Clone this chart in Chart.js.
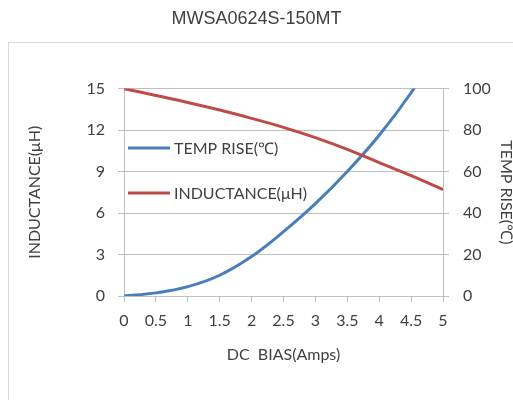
<!DOCTYPE html>
<html>
<head>
<meta charset="utf-8">
<script src="https://cdn.jsdelivr.net/npm/chart.js@4"></script>
<style>
  html, body { margin: 0; padding: 0; background: #fff; }
  #wrap { width: 513px; height: 400px; }
</style>
</head>
<body>
<div id="wrap"><canvas id="biasChart"></canvas></div>
<script>
// values
const biasAmps = [0, 0.5, 1, 1.5, 2, 2.5, 3, 3.5, 4, 4.5, 5];
const inductance = [15, 14.5, 14.0, 13.45, 12.85, 12.2, 11.45, 10.6, 9.65, 8.7, 7.7];
const tempRise = [0, 1.5, 4.5, 10, 19, 31, 44.5, 60, 77.5, 98, 122];
const inductanceTicks = [0, 3, 6, 9, 12, 15];
const tempTicks = [0, 20, 40, 60, 80, 100];

const textColor = '#404040';
const gridColor = '#bfbfbf';
const blue = '#4a7ebb';
const red = '#be4b48';

function toPoints(ys) {
    return biasAmps.map((x, i) => ({ x: x, y: ys[i] }));
}

// outer frame of the chart object
const framePlugin = {
    id: 'frame',
    beforeDraw(chart) {
        const ctx = chart.ctx;
        ctx.save();
        ctx.strokeStyle = '#d9d9d9';
        ctx.lineWidth = 1;
        ctx.strokeRect(8.5, 42.5, 520, 380);
        ctx.restore();
    }
};

// legend sits inside the plot, upper left
const insideLegend = {
    id: 'insideLegend',
    afterDatasetsDraw(chart) {
        const ctx = chart.ctx;
        const items = [
            { text: 'TEMP RISE(℃)', color: blue, y: 148 },
            { text: 'INDUCTANCE(μH)', color: red, y: 193 }
        ];
        ctx.save();
        ctx.font = '16px Lato, "Liberation Sans", sans-serif';
        ctx.textBaseline = 'middle';
        ctx.textAlign = 'left';
        items.forEach(it => {
            ctx.strokeStyle = it.color;
            ctx.lineWidth = 3;
            ctx.beginPath();
            ctx.moveTo(128, it.y);
            ctx.lineTo(170, it.y);
            ctx.stroke();
            ctx.fillStyle = textColor;
            ctx.fillText(it.text, 174, it.y + 1);
        });
        ctx.restore();
    }
};

const tickFont = { family: 'Lato, "Liberation Sans", sans-serif', size: 16 };

new Chart(document.getElementById('biasChart'), {
    type: 'line',
    data: {
        datasets: [{
            label: 'TEMP RISE(℃)',
            data: toPoints(tempRise),
            yAxisID: 'y1',
            borderColor: blue,
            borderWidth: 3,
            pointRadius: 0,
            tension: 0.4,
            order: 1
        }, {
            label: 'INDUCTANCE(μH)',
            data: toPoints(inductance),
            yAxisID: 'y',
            borderColor: red,
            borderWidth: 3,
            pointRadius: 0,
            tension: 0.4,
            order: 0
        }]
    },
    options: {
        responsive: true,
        maintainAspectRatio: false,
        animation: false,
        layout: { padding: 0 },
        plugins: {
            legend: { display: false },
            tooltip: { enabled: false },
            title: {
                display: true,
                text: 'MWSA0624S-150MT',
                color: textColor,
                font: { family: '"Liberation Sans", Arial, sans-serif', size: 18, weight: 'normal', lineHeight: 1.2 },
                padding: { top: 8, bottom: 59 }
            }
        },
        scales: {
            x: {
                type: 'linear',
                min: 0,
                max: 5,
                ticks: {
                    stepSize: 0.5,
                    color: textColor,
                    font: tickFont,
                    padding: 9,
                    maxRotation: 0,
                    callback: v => String(v)
                },
                grid: { drawOnChartArea: false, drawTicks: true, tickLength: 6, color: gridColor },
                border: { display: true, color: gridColor },
                title: {
                    display: true,
                    text: 'DC  BIAS(Amps)',
                    color: textColor,
                    font: tickFont,
                    padding: { top: 0, bottom: 36 }
                },
                afterFit(scale) { scale.height = 104; }
            },
            y: {
                position: 'left',
                min: 0,
                max: 15,
                afterBuildTicks(scale) { scale.ticks = inductanceTicks.map(v => ({ value: v })); },
                ticks: { color: textColor, font: tickFont, padding: 13 },
                grid: { color: gridColor, tickLength: 6 },
                border: { display: true, color: gridColor },
                title: {
                    display: true,
                    text: 'INDUCTANCE(μH)',
                    color: textColor,
                    font: tickFont,
                    padding: { top: 25, bottom: 0 }
                },
                afterFit(scale) { scale.width = 124; }
            },
            y1: {
                position: 'right',
                min: 0,
                max: 100,
                afterBuildTicks(scale) { scale.ticks = tempTicks.map(v => ({ value: v })); },
                ticks: { color: textColor, font: tickFont, padding: 14 },
                grid: { drawOnChartArea: false, color: gridColor, tickLength: 6 },
                border: { display: true, color: gridColor },
                title: {
                    display: true,
                    text: 'TEMP RISE(℃)',
                    color: textColor,
                    font: { family: tickFont.family, size: 16, lineHeight: 0.8 },
                    padding: { top: 0, bottom: 0 }
                },
                afterFit(scale) { scale.width = 70; }
            }
        }
    },
    plugins: [framePlugin, insideLegend]
});
</script>
</body>
</html>
